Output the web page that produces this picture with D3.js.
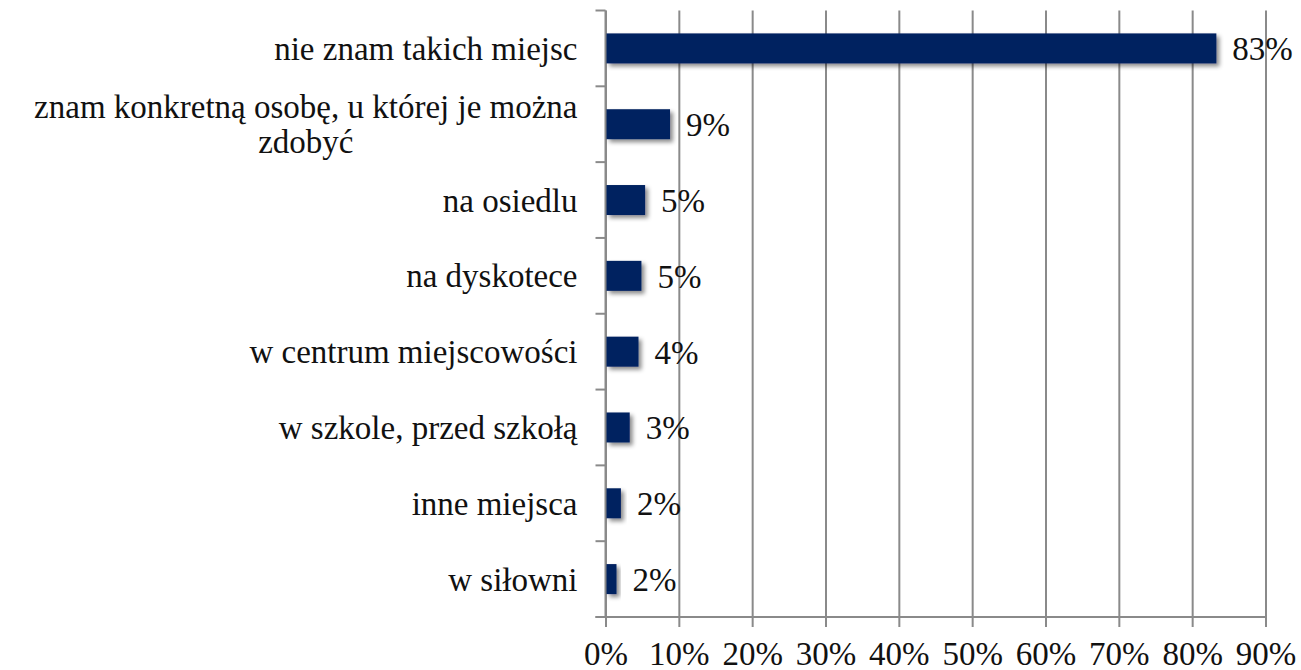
<!DOCTYPE html>
<html>
<head>
<meta charset="utf-8">
<script src="https://cdn.jsdelivr.net/npm/d3@7"></script>
<style>
    body { margin: 0; background: #fff; }
    #chart { width: 1301px; height: 670px; }
    text { font-family: 'Liberation Serif', 'DejaVu Serif', serif; fill: #111; }
</style>
</head>
<body>
<div id="chart"></div>
<script>
//Datos
const categories = [
    'nie znam takich miejsc',
    'znam konkretną osobę, u której je można\nzdobyć',
    'na osiedlu',
    'na dyskotece',
    'w centrum miejscowości',
    'w szkole, przed szkołą',
    'inne miejsca',
    'w siłowni'
];
const values = [83.3, 8.8, 5.4, 4.9, 4.5, 3.3, 2.1, 1.5];
const valueLabels = ['83%', '9%', '5%', '5%', '4%', '3%', '2%', '2%'];
const xTicks = [0, 10, 20, 30, 40, 50, 60, 70, 80, 90];

//Colores
const COLOR_BAR = '#002060',
    COLOR_GRID = '#8a8a8a';
const FONT_SIZE = '33px';

let margin = {top: 10.5, right: 35, bottom: 53, left: 605.5},
    width = 1301 - margin.left - margin.right,
    height = 670 - margin.top - margin.bottom;

let data = categories.map(function(c, i) { return {name: c, value: values[i], label: valueLabels[i]}; });

let svgRoot = d3.select('#chart')
    .append('svg')
    .attr('width', 1301)
    .attr('height', 670);

let defs = svgRoot.append('defs');
let filter = defs.append('filter')
    .attr('id', 'shadow')
    .attr('x', '-20%').attr('y', '-20%')
    .attr('width', '160%').attr('height', '160%');
filter.append('feDropShadow')
    .attr('dx', 3).attr('dy', 3)
    .attr('stdDeviation', 2.2)
    .attr('flood-color', '#000')
    .attr('flood-opacity', 0.45);

let svg = svgRoot.append('g')
    .attr('transform', 'translate(' + margin.left + ',' + margin.top + ')');

let x = d3.scaleLinear()
    .domain([0, 90])
    .range([0, 660]);

let y = d3.scaleBand()
    .domain(categories)
    .range([0, height])
    .padding(0);

//Eje X con líneas de cuadrícula
let xAxis = function(g) {
    g.call(d3.axisBottom(x).tickValues(xTicks).tickFormat(function(d) { return d + '%'; }).tickSize(10).tickPadding(15));
    g.select('.domain').remove();
    g.selectAll('.tick line')
        .attr('stroke', COLOR_GRID)
        .attr('stroke-width', 2)
        .attr('y1', -height)
        .attr('y2', 10);
    g.selectAll('.tick text')
        .attr('font-size', FONT_SIZE)
        .attr('font-family', null)
        .attr('fill', '#111');
};

svg.append('g')
    .attr('transform', 'translate(0,' + height + ')')
    .call(xAxis);

//Línea base inferior
svg.append('line')
    .attr('x1', -10).attr('x2', x(90))
    .attr('y1', height).attr('y2', height)
    .attr('stroke', COLOR_GRID).attr('stroke-width', 2);

//Eje Y
let yTickPos = categories.map(function(c) { return y(c); }).concat([height]);
svg.selectAll('.ytick')
    .data(yTickPos)
    .enter()
    .append('line')
    .attr('x1', -10).attr('x2', 0)
    .attr('y1', function(d) { return d; })
    .attr('y2', function(d) { return d; })
    .attr('stroke', COLOR_GRID).attr('stroke-width', 2);

svg.append('line')
    .attr('x1', 0).attr('x2', 0)
    .attr('y1', 0).attr('y2', height)
    .attr('stroke', COLOR_GRID).attr('stroke-width', 2);

//Etiquetas de categorías (bloque centrado, alineado a la derecha)
let lineH = 35;
svg.selectAll('.cat')
    .data(data)
    .enter()
    .append('text')
    .attr('class', 'cat')
    .attr('font-size', FONT_SIZE)
    .attr('text-anchor', 'middle')
    .each(function(d) {
        let lines = d.name.split('\n');
        let cy = y(d.name) + y.bandwidth() / 2;
        let t = d3.select(this);
        let spans = lines.map(function(l, i) {
            return t.append('tspan')
                .attr('y', cy + (i - (lines.length - 1) / 2) * lineH)
                .attr('dy', '0.35em')
                .text(l);
        });
        let maxW = d3.max(spans, function(s) { return s.node().getComputedTextLength(); });
        spans.forEach(function(s) { s.attr('x', -28 - maxW / 2); });
    });

//Barras
svg.selectAll('.bar')
    .data(data)
    .enter()
    .append('rect')
    .attr('class', 'bar')
    .attr('x', x(0) + 1)
    .attr('y', function(d) { return y(d.name) + y.bandwidth() / 2 - 15; })
    .attr('width', function(d) { return x(d.value) - x(0) - 1; })
    .attr('height', 30)
    .attr('fill', COLOR_BAR)
    .attr('filter', 'url(#shadow)');

//Etiquetas de valores
svg.selectAll('.val')
    .data(data)
    .enter()
    .append('text')
    .attr('class', 'val')
    .attr('font-size', FONT_SIZE)
    .attr('x', function(d) { return x(d.value) + 16; })
    .attr('y', function(d) { return y(d.name) + y.bandwidth() / 2; })
    .attr('dy', '0.36em')
    .text(function(d) { return d.label; });
</script>
</body>
</html>
